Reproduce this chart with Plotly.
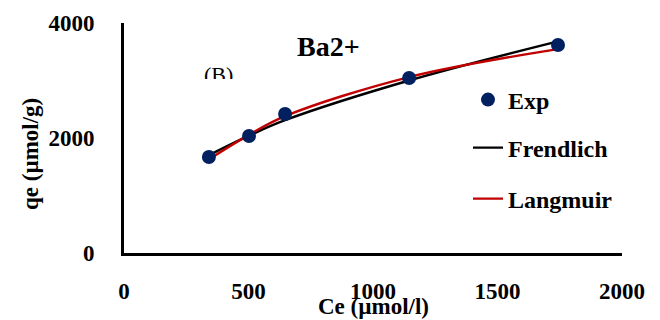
import plotly.graph_objects as go

# Data
ce = [341, 502, 647, 1145, 1743]
qe_exp = [1670, 2035, 2417, 3043, 3617]
qe_freundlich = [1700, 2040, 2310, 3000, 3680]
qe_langmuir = [1630, 2055, 2380, 3060, 3545]

x_ticks = [0, 500, 1000, 1500, 2000]
y_ticks = [0, 2000, 4000]

FONT = "Liberation Serif"
OFF = 8            # default page body margin
L, R, T, B = 124, 622, 23, 253   # plot area in page pixels
W, H = 660 - OFF, 320 - OFF

def px_x(p):
    return (p - L) / (R - L)

def px_y(p):
    return (B - p) / (B - T)

fig = go.Figure()
fig.add_trace(go.Scatter(x=ce, y=qe_freundlich, mode="lines", name="Frendlich",
                         line=dict(color="black", width=2.4, shape="spline"),
                         legend="legend2"))
fig.add_trace(go.Scatter(x=ce, y=qe_langmuir, mode="lines", name="Langmuir",
                         line=dict(color="#c00000", width=2.4, shape="spline"),
                         legend="legend3"))
fig.add_trace(go.Scatter(x=ce, y=qe_exp, mode="markers", name="Exp",
                         marker=dict(color="#002060", size=14),
                         legend="legend"))

leg_font = dict(family=FONT, size=24, color="black", weight="bold")
def leg(y, x):
    return dict(x=px_x(x), y=px_y(y), xanchor="left", yanchor="middle",
                bgcolor="rgba(0,0,0,0)", font=leg_font)

fig.update_layout(
    width=W, height=H,
    margin=dict(l=L - OFF, r=W - (R - OFF), t=T - OFF, b=H - (B - OFF), autoexpand=False),
    plot_bgcolor="white", paper_bgcolor="white",
    showlegend=True,
    legend=leg(100, 468),
    legend2=leg(148, 468),
    legend3=leg(199, 468),
    xaxis=dict(range=[0, 2000], tickvals=x_ticks, showgrid=False, zeroline=False,
               showline=True, linecolor="black", linewidth=3, ticks="",
               ticklabelstandoff=15, automargin=False,
               tickfont=dict(family=FONT, size=23, color="black", weight="bold")),
    yaxis=dict(range=[0, 4000], tickvals=y_ticks, showgrid=False, zeroline=False,
               showline=True, linecolor="black", linewidth=3, ticks="",
               ticklabelstandoff=22, automargin=False,
               tickfont=dict(family=FONT, size=23, color="black", weight="bold")),
)

fig.add_annotation(text="<b>Ce (µmol/l)</b>", xref="paper", yref="paper",
                   x=px_x(373), y=px_y(306), showarrow=False,
                   xanchor="center", yanchor="middle",
                   font=dict(family=FONT, size=23, color="black"))
fig.add_annotation(text="<b>qe (µmol/g)</b>", xref="paper", yref="paper",
                   x=px_x(30), y=px_y(154), showarrow=False, textangle=-90,
                   xanchor="center", yanchor="middle",
                   font=dict(family=FONT, size=23, color="black"))
fig.add_annotation(text="<b>Ba2+</b>", xref="paper", yref="paper",
                   x=px_x(328), y=px_y(46), showarrow=False,
                   xanchor="center", yanchor="middle",
                   font=dict(family=FONT, size=28, color="black"))
fig.add_annotation(text="(B)", xref="paper", yref="paper",
                   x=px_x(202), y=px_y(60), xanchor="left", yanchor="top",
                   showarrow=False, height=17, valign="top",
                   font=dict(family=FONT, size=22, color="black"))

fig.write_html("out.html")
